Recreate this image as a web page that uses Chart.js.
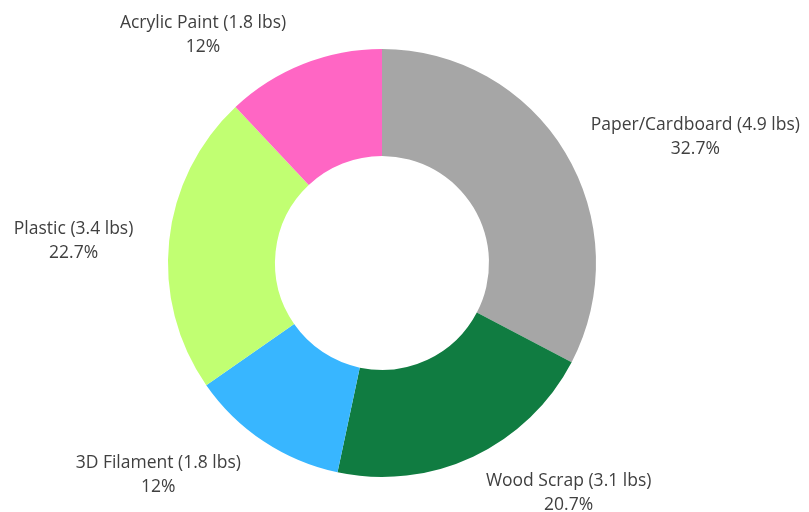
<!DOCTYPE html>
<html>
<head>
<meta charset="utf-8">
<script src="https://cdn.jsdelivr.net/npm/chart.js@4"></script>
<style>
  html, body { margin: 0; padding: 0; background: #fff; }
  #wrap { width: 809px; height: 512px; }
</style>
</head>
<body>
<div id="wrap"><canvas id="wasteChart"></canvas></div>
<script>
var categories = ['Paper/Cardboard', 'Wood Scrap', '3D Filament', 'Plastic', 'Acrylic Paint'];
var weights = [4.9, 3.1, 1.8, 3.4, 1.8];
var percentLabels = ['32.7%', '20.7%', '12%', '22.7%', '12%'];
var sliceColors = ['#a6a6a6', '#107c41', '#38b6ff', '#c1ff72', '#ff66c4'];

// outside labels: name + weight on the first line, share on the second
var outsideLabels = {
    id: 'outsideLabels',
    afterDatasetsDraw: function(chart) {
        var ctx = chart.ctx;
        var meta = chart.getDatasetMeta(0);
        ctx.save();
        ctx.font = '17.5px "Open Sans", sans-serif';
        ctx.fillStyle = '#404040';
        ctx.textBaseline = 'middle';
        meta.data.forEach(function(arc, i) {
            var mid = (arc.startAngle + arc.endAngle) / 2;
            var r = arc.outerRadius + 30;
            var right = Math.cos(mid) >= 0;
            var ax = arc.x + Math.cos(mid) * r + (right ? 0 : -6);
            var ay = arc.y + Math.sin(mid) * r + 4 + 6 * Math.sin(mid);
            var lines = [categories[i] + ' (' + weights[i] + ' lbs)', percentLabels[i]];
            var w = Math.max(ctx.measureText(lines[0]).width, ctx.measureText(lines[1]).width);
            var cx = right ? ax + w / 2 : ax - w / 2;
            ctx.textAlign = 'center';
            ctx.fillText(lines[0], cx, ay - 12);
            ctx.fillText(lines[1], cx, ay + 12);
        });
        ctx.restore();
    }
};

var ctx = document.getElementById('wasteChart').getContext('2d');
var waste_chart = new Chart(ctx, {
    type: 'doughnut',
    data: {
        labels: categories,
        datasets: [{
            data: weights,
            backgroundColor: sliceColors,
            borderWidth: 0
        }]
    },
    options: {
        responsive: true,
        maintainAspectRatio: false,
        animation: false,
        cutout: '50%',
        layout: {
            padding: { top: 49, bottom: 35, left: 0, right: 45 }
        },
        plugins: {
            legend: { display: false },
            tooltip: { enabled: false }
        }
    },
    plugins: [outsideLabels]
});
</script>
</body>
</html>
